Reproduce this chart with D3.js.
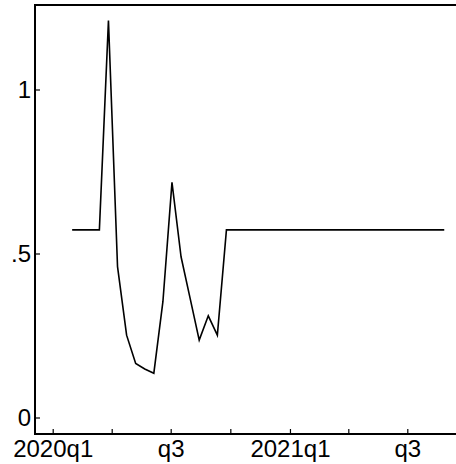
<!DOCTYPE html>
<html><head><meta charset="utf-8">
<script src="https://cdn.jsdelivr.net/npm/d3@7"></script>
<style>body{margin:0;background:#fff}svg{display:block}</style>
</head><body>
<svg id="c" width="456" height="464"></svg>
<script>
const dates = ["2020-01-31","2020-02-14","2020-02-28","2020-03-13","2020-03-27","2020-04-10","2020-04-24","2020-05-08","2020-05-22","2020-06-05","2020-06-19","2020-07-03","2020-07-17","2020-07-31","2020-08-14","2020-08-28","2020-09-11","2020-09-25","2020-10-09","2020-10-23","2020-11-06","2020-11-20","2020-12-04","2020-12-18","2021-01-01","2021-01-15","2021-01-29","2021-02-12","2021-02-26","2021-03-12","2021-03-26","2021-04-09","2021-04-23","2021-05-07","2021-05-21","2021-06-04","2021-06-18","2021-07-02","2021-07-16","2021-07-30","2021-08-13","2021-08-27"];
const values = [0.572,0.572,0.572,0.572,1.21,0.46,0.251,0.165,0.148,0.135,0.353,0.717,0.49,0.363,0.236,0.31,0.251,0.572,0.572,0.572,0.572,0.572,0.572,0.572,0.572,0.572,0.572,0.572,0.572,0.572,0.572,0.572,0.572,0.572,0.572,0.572,0.572,0.572,0.572,0.572,0.572,0.572];
const xTicks = ["2020-01-01","2020-04-01","2020-07-01","2020-10-01","2021-01-01","2021-04-01","2021-07-01"];
const xTickLabels = ["2020q1","","q3","","2021q1","","q3"];
const yTicks = [0, 0.5, 1];
const yTickLabels = ["0", ".5", "1"];

const P = d3.utcParse("%Y-%m-%d");
const svg = d3.select("#c");
const L = 35, R = 457, T = 5, B = 434;
const x = d3.scaleUtc().domain([P("2020-01-01"), P("2021-07-01")]).range([52.7, 407.3]);
const y = d3.scaleLinear().domain([0, 1]).range([417.5, 89.5]);
const font = "'Liberation Sans', Arial, sans-serif";

// frame
svg.append("rect").attr("x", L).attr("y", T).attr("width", R - L).attr("height", B - T)
  .attr("fill", "none").attr("stroke", "#000").attr("stroke-width", 2);

// x axis
const xa = svg.append("g").attr("transform", `translate(0,${B})`)
  .call(d3.axisBottom(x).tickValues(xTicks.map(P)).tickSize(-5).tickPadding(0)
    .tickFormat((d, i) => xTickLabels[i]));
xa.select(".domain").remove();
xa.selectAll(".tick line").attr("stroke", "#000").attr("stroke-width", 1.2);
xa.selectAll(".tick text").attr("y", 22.7).attr("dy", 0).attr("fill", "#000")
  .style("font-family", font).style("font-size", "24px");

// y axis
const ya = svg.append("g").attr("transform", `translate(${L},0)`)
  .call(d3.axisLeft(y).tickValues(yTicks).tickSize(-5).tickPadding(0)
    .tickFormat((d, i) => yTickLabels[i]));
ya.select(".domain").remove();
ya.selectAll(".tick line").attr("stroke", "#000").attr("stroke-width", 1.2);
ya.selectAll(".tick text").attr("x", -4).attr("dy", "0.35em").attr("fill", "#000")
  .style("font-family", font).style("font-size", "24px");

// line
const line = d3.line().x((d, i) => x(P(dates[i]))).y(d => y(d));
svg.append("path").datum(values).attr("d", line)
  .attr("fill", "none").attr("stroke", "#000").attr("stroke-width", 1.6)
  .attr("stroke-linejoin", "miter");
</script>
</body></html>
